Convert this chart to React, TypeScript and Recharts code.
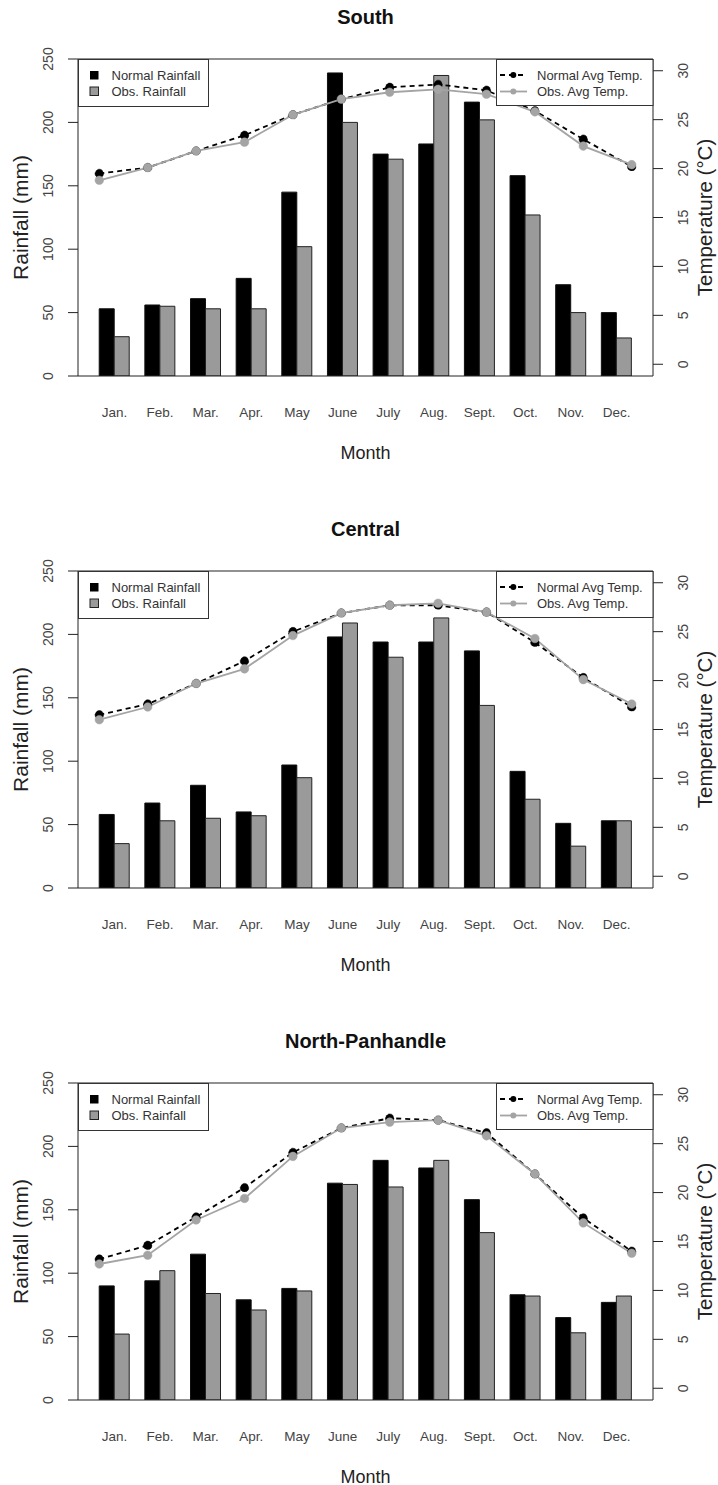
import React from 'react';
import { ComposedChart, Bar, Line, XAxis, YAxis, ReferenceLine } from 'recharts';

const months = ['Jan.', 'Feb.', 'Mar.', 'Apr.', 'May', 'June', 'July', 'Aug.', 'Sept.', 'Oct.', 'Nov.', 'Dec.'];
const monthNum = [1, 2, 3, 4, 5, 6, 7, 8, 9, 10, 11, 12];
const rainTicks = [0, 50, 100, 150, 200, 250];
const tempTicks = [0, 5, 10, 15, 20, 25, 30];

// South
const southNormalRain = [53, 56, 61, 77, 145, 239, 175, 183, 216, 158, 72, 50];
const southObsRain = [31, 55, 53, 53, 102, 200, 171, 237, 202, 127, 50, 30];
const southNormalTemp = [19.5, 20.1, 21.8, 23.4, 25.5, 27.1, 28.3, 28.6, 28.0, 25.9, 23.0, 20.2];
const southObsTemp = [18.8, 20.1, 21.8, 22.7, 25.5, 27.1, 27.8, 28.1, 27.6, 25.8, 22.3, 20.4];

// Central
const centralNormalRain = [58, 67, 81, 60, 97, 198, 194, 194, 187, 92, 51, 53];
const centralObsRain = [35, 53, 55, 57, 87, 209, 182, 213, 144, 70, 33, 53];
const centralNormalTemp = [16.5, 17.6, 19.7, 22.0, 25.0, 26.9, 27.7, 27.7, 27.0, 23.9, 20.3, 17.3];
const centralObsTemp = [16.0, 17.3, 19.7, 21.2, 24.6, 26.9, 27.7, 27.9, 27.0, 24.3, 20.1, 17.6];

// North-Panhandle
const northNormalRain = [90, 94, 115, 79, 88, 171, 189, 183, 158, 83, 65, 77];
const northObsRain = [52, 102, 84, 71, 86, 170, 168, 189, 132, 82, 53, 82];
const northNormalTemp = [13.2, 14.6, 17.5, 20.5, 24.1, 26.6, 27.6, 27.4, 26.1, 21.9, 17.4, 14.0];
const northObsTemp = [12.7, 13.6, 17.2, 19.4, 23.7, 26.6, 27.2, 27.4, 25.8, 21.9, 16.9, 13.8];

const FONT = '"Liberation Sans", Arial, Helvetica, sans-serif';
const GRAY = '#9a9a9a';
const LINE_GRAY = '#a4a4a4';

function buildRows(nr: number[], or: number[], nt: number[], ot: number[]) {
  return months.map((m, i) => ({
    month: m,
    idx: monthNum[i],
    normalRain: nr[i],
    obsRain: or[i],
    normalTemp: nt[i],
    obsTemp: ot[i],
  }));
}

const MonthTick = (props: any) => (
  <text x={props.x} y={props.y + 41} textAnchor="middle" fontSize={13.5} fill="#444" fontFamily={FONT}>
    {props.payload.value}
  </text>
);

const LeftTick = (props: any) => {
  const x = props.x - 15;
  return (
    <text x={x} y={props.y} transform={`rotate(-90, ${x}, ${props.y})`} textAnchor="middle" fontSize={14} fill="#444" fontFamily={FONT}>
      {props.payload.value}
    </text>
  );
};

const RightTick = (props: any) => {
  const x = props.x + 25;
  return (
    <text x={x} y={props.y} transform={`rotate(-90, ${x}, ${props.y})`} textAnchor="middle" fontSize={14} fill="#444" fontFamily={FONT}>
      {props.payload.value}
    </text>
  );
};

function Panel({ title, rows, top }: { title: string; rows: any[]; top: number }) {
  return (
    <div style={{ position: 'absolute', left: 0, top, width: 718, height: 512 }}>
      <ComposedChart
        width={718}
        height={512}
        data={rows}
        margin={{ top: 59, right: 0, bottom: 96, left: 0 }}
        barGap={0}
        barCategoryGap="16.667%"
      >
        <XAxis
          xAxisId="bar"
          dataKey="month"
          type="category"
          interval={0}
          padding={{ left: 13.6, right: 13.6 }}
          height={40}
          tickLine={false}
          tickSize={0}
          tickMargin={0}
          axisLine={{ stroke: '#222' }}
          tick={MonthTick}
        />
        <XAxis xAxisId="num" dataKey="idx" type="number" domain={[0.56, 12.44]} allowDataOverflow hide />
        <YAxis
          yAxisId="rain"
          orientation="left"
          width={78}
          domain={[0, 250]}
          ticks={rainTicks}
          allowDataOverflow
          tickSize={10}
          tickMargin={0}
          axisLine={{ stroke: '#222' }}
          tickLine={{ stroke: '#222' }}
          tick={LeftTick}
        />
        <YAxis
          yAxisId="temp"
          orientation="right"
          width={65}
          domain={[-1.2, 31.2]}
          ticks={tempTicks}
          allowDataOverflow
          tickSize={10}
          tickMargin={0}
          axisLine={{ stroke: '#222' }}
          tickLine={{ stroke: '#222' }}
          tick={RightTick}
        />
        <ReferenceLine xAxisId="bar" yAxisId="rain" y={250} stroke="#222" />
        <Bar xAxisId="bar" yAxisId="rain" dataKey="normalRain" fill="#000" stroke="#111" strokeWidth={1} isAnimationActive={false} />
        <Bar xAxisId="bar" yAxisId="rain" dataKey="obsRain" fill={GRAY} stroke="#222" strokeWidth={1} isAnimationActive={false} />
        <Line
          xAxisId="num"
          yAxisId="temp"
          dataKey="normalTemp"
          stroke="#000"
          strokeWidth={1.8}
          strokeDasharray="5 4"
          dot={{ r: 4.3, fill: '#000', stroke: '#000', strokeWidth: 0.5 }}
          isAnimationActive={false}
        />
        <Line
          xAxisId="num"
          yAxisId="temp"
          dataKey="obsTemp"
          stroke={LINE_GRAY}
          strokeWidth={1.8}
          dot={{ r: 4.3, fill: LINE_GRAY, stroke: LINE_GRAY, strokeWidth: 0.5 }}
          isAnimationActive={false}
        />
      </ComposedChart>
      <svg width={718} height={512} style={{ position: 'absolute', left: 0, top: 0, pointerEvents: 'none' }} fontFamily={FONT}>
        <text x={365.5} y={24} textAnchor="middle" fontSize={20} fontWeight="bold" fill="#111">
          {title}
        </text>
        <text x={365.5} y={458.5} textAnchor="middle" fontSize={18} fill="#222">
          Month
        </text>
        <text x={27.5} y={217.5} transform="rotate(-90, 27.5, 217.5)" textAnchor="middle" fontSize={21} fill="#222">
          Rainfall (mm)
        </text>
        <text x={712} y={217.5} transform="rotate(-90, 712, 217.5)" textAnchor="middle" fontSize={20.5} fill="#222">
          Temperature (°C)
        </text>

        {/* rainfall legend */}
        <rect x={78.5} y={59.5} width={130} height={47} fill="#fff" stroke="#333" />
        <rect x={90} y={71} width={8.5} height={8.5} fill="#000" />
        <rect x={90} y={87} width={8.5} height={8.5} fill={GRAY} stroke="#222" />
        <text x={111.5} y={79.6} fontSize={13} fill="#333">Normal Rainfall</text>
        <text x={111.5} y={95.8} fontSize={13} fill="#333">Obs. Rainfall</text>

        {/* temperature legend */}
        <rect x={496.5} y={59.5} width={156.5} height={46} fill="#fff" stroke="#333" />
        <line x1={500} y1={75} x2={527} y2={75} stroke="#000" strokeWidth={1.8} strokeDasharray="5 4" />
        <circle cx={513.3} cy={75} r={3} fill="#000" />
        <line x1={500} y1={91.5} x2={527} y2={91.5} stroke={LINE_GRAY} strokeWidth={1.8} />
        <circle cx={513.3} cy={91.5} r={3} fill={LINE_GRAY} />
        <text x={537} y={79.6} fontSize={13} fill="#333">Normal Avg Temp.</text>
        <text x={537} y={96} fontSize={13} fill="#333">Obs. Avg Temp.</text>
      </svg>
    </div>
  );
}

export default function App() {
  return (
    <div style={{ position: 'absolute', left: 0, top: 0, width: 718, height: 1485, overflow: 'hidden', background: '#fff' }}>
      <Panel title="South" top={0} rows={buildRows(southNormalRain, southObsRain, southNormalTemp, southObsTemp)} />
      <Panel title="Central" top={512} rows={buildRows(centralNormalRain, centralObsRain, centralNormalTemp, centralObsTemp)} />
      <Panel title="North-Panhandle" top={1024} rows={buildRows(northNormalRain, northObsRain, northNormalTemp, northObsTemp)} />
    </div>
  );
}
